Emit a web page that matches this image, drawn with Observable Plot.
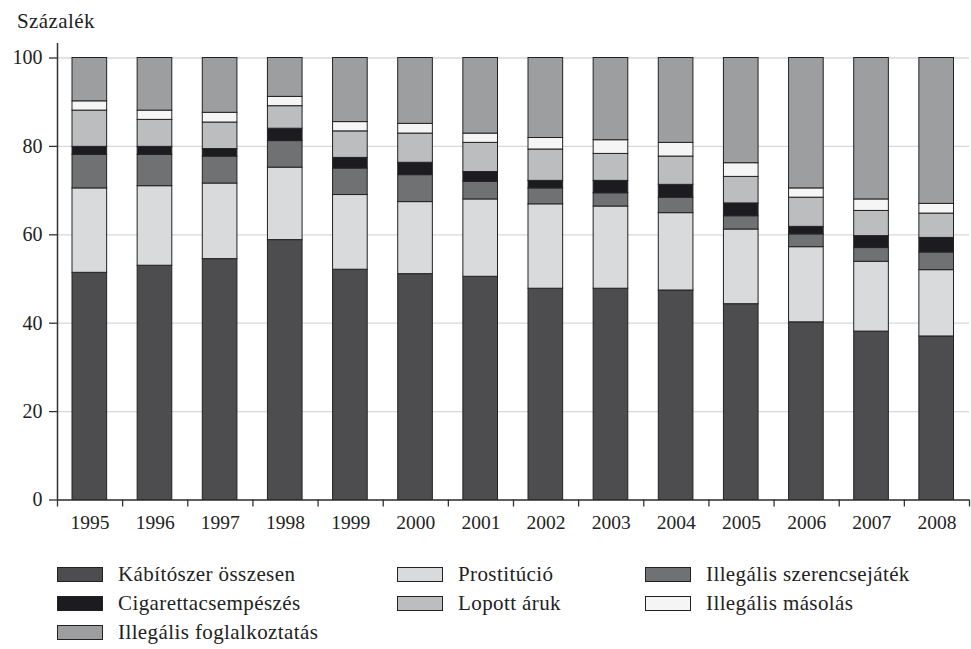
<!DOCTYPE html>
<html>
<head>
<meta charset="utf-8">
<script src="https://cdn.jsdelivr.net/npm/d3@7"></script>
<script src="https://cdn.jsdelivr.net/npm/@observablehq/plot@0.6"></script>
<style>
  body { margin: 0; background: #fff; font-family: "Liberation Serif", "DejaVu Serif", serif; color: #222; }
  #wrap { position: relative; width: 971px; }
  #ylabel { position: absolute; left: 17px; top: 9px; font-size: 21px; letter-spacing: 0.4px; }
  #legend { display: grid; grid-template-columns: 340px 248px 300px; margin-left: 57px; margin-top: 15px; row-gap: 0; }
  .item { display: flex; align-items: center; height: 29px; font-size: 21px; letter-spacing: 0.4px; }
  .sw { width: 44px; height: 13px; border: 1.5px solid #222; margin-right: 15px; box-sizing: content-box; }
</style>
</head>
<body>
<div id="wrap">
  <div id="ylabel">Százalék</div>
  <div id="chart"></div>
  <div id="legend"></div>
</div>
<script>
const years = [1995, 1996, 1997, 1998, 1999, 2000, 2001, 2002, 2003, 2004, 2005, 2006, 2007, 2008];
const seriesNames = ["Kábítószer összesen", "Prostitúció", "Illegális szerencsejáték", "Cigarettacsempészés", "Lopott áruk", "Illegális másolás", "Illegális foglalkoztatás"];
const seriesColors = ["#4d4d4f", "#d9dadc", "#707173", "#1c1b1f", "#bcbdbf", "#f5f5f5", "#9d9ea0"];
const kabitoszer     = [51.4, 53.0, 54.5, 58.8, 52.1, 51.1, 50.5, 47.8, 47.8, 47.4, 44.3, 40.2, 38.1, 37.0];
const prostitucio    = [19.1, 18.0, 17.1, 16.4, 16.9, 16.3, 17.5, 19.1, 18.6, 17.5, 16.9, 17.0, 15.8, 15.0];
const szerencsejatek = [7.6, 7.1, 6.1, 6.0, 6.0, 6.1, 4.0, 3.6, 3.0, 3.5, 3.0, 2.9, 3.1, 4.0];
const cigaretta      = [1.8, 1.8, 1.7, 2.8, 2.4, 2.8, 2.2, 1.7, 2.8, 2.9, 2.9, 1.7, 2.7, 3.3];
const lopott         = [8.2, 6.1, 6.0, 5.1, 6.0, 6.6, 6.6, 7.1, 6.1, 6.4, 6.0, 6.6, 5.7, 5.5];
const masolas        = [2.1, 2.1, 2.2, 2.1, 2.1, 2.2, 2.1, 2.6, 3.1, 3.1, 3.1, 2.1, 2.6, 2.2];
const foglalkoztatas = [9.8, 11.9, 12.4, 8.8, 14.5, 14.9, 17.1, 18.1, 18.6, 19.2, 23.8, 29.5, 32.0, 33.0];
const yTicks = [0, 20, 40, 60, 80, 100];

const seriesValues = [kabitoszer, prostitucio, szerencsejatek, cigaretta, lopott, masolas, foglalkoztatas];
const data = [];
years.forEach((yr, i) => {
  seriesNames.forEach((s, j) => data.push({year: yr, series: s, value: seriesValues[j][i]}));
});
const boundaries = [years[0] - 0.5, ...years.map(y => y + 0.5)];

const chart = Plot.plot({
  width: 971,
  height: 545,
  marginLeft: 57,
  marginRight: 2,
  marginTop: 57.5,
  marginBottom: 45.5,
  style: {fontFamily: "'Liberation Serif', serif", fontSize: "19px", color: "#222", background: "white"},
  x: {domain: [boundaries[0], boundaries[boundaries.length - 1]]},
  y: {domain: [0, 100]},
  color: {domain: seriesNames, range: seriesColors},
  marks: [
    Plot.gridY(yTicks, {stroke: "#d8d8d8", strokeOpacity: 1, strokeWidth: 1.3}),
    Plot.rectY(data, Plot.stackY({
      x1: d => d.year - 0.5, x2: d => d.year + 0.5, y: "value", fill: "series", order: seriesNames,
      insetLeft: 15, insetRight: 15.5, stroke: "#222", strokeWidth: 1
    })),
    Plot.axisY(yTicks, {tickSize: 8, tickPadding: 7, stroke: "#333", strokeWidth: 1.3, label: null, fontSize: 20}),
    Plot.axisX(boundaries, {tickSize: 7, tickFormat: () => "", stroke: "#333", strokeWidth: 1.3, label: null}),
    Plot.axisX(years, {tickSize: 0, tickPadding: 15, tickFormat: d => String(d), label: null, fontSize: 19.5}),
    Plot.ruleX([boundaries[0]], {y1: 0, y2: 103.3, stroke: "#333", strokeWidth: 1.5}),
    Plot.ruleY([0], {stroke: "#333", strokeWidth: 1.5})
  ]
});
document.getElementById("chart").appendChild(chart);

const legend = document.getElementById("legend");
seriesNames.forEach((s, j) => {
  const it = document.createElement("div");
  it.className = "item";
  const sw = document.createElement("span");
  sw.className = "sw";
  sw.style.background = seriesColors[j];
  const t = document.createElement("span");
  t.textContent = s;
  it.appendChild(sw);
  it.appendChild(t);
  legend.appendChild(it);
});
</script>
</body>
</html>
